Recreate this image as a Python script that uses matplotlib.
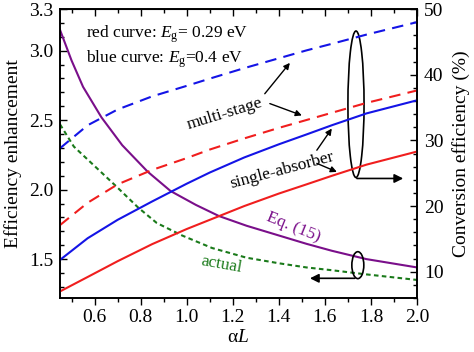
import matplotlib
matplotlib.use('Agg')
import matplotlib.pyplot as plt
from matplotlib.patches import Ellipse
from matplotlib.ticker import MultipleLocator, FixedLocator

plt.rcParams['font.family'] = 'Liberation Serif'
plt.rcParams['mathtext.fontset'] = 'custom'
plt.rcParams['mathtext.rm'] = 'Liberation Serif'
plt.rcParams['mathtext.it'] = 'Liberation Serif:italic'

# conversion efficiency (%), right axis
aL = [0.45, 0.57, 0.70, 0.85, 1.0, 1.1, 1.25, 1.4, 1.52, 1.63, 1.78, 2.0]
multi_blue = [28.8, 32.3, 34.7, 36.7, 38.3, 39.4, 41.0, 42.5, 43.7, 44.7, 46.1, 48.0]
multi_red = [17.1, 20.5, 23.3, 25.5, 27.3, 28.6, 30.3, 31.9, 33.1, 34.2, 35.7, 37.6]
single_blue = [11.8, 15.1, 17.9, 20.7, 23.4, 25.1, 27.4, 29.4, 30.9, 32.3, 34.1, 36.1]
single_red = [7.0, 9.2, 11.6, 14.2, 16.5, 17.9, 20.0, 21.9, 23.3, 24.6, 26.3, 28.3]

# efficiency enhancement, left axis
aL_eq = [0.45, 0.50, 0.55, 0.63, 0.72, 0.83, 0.93, 1.04, 1.14, 1.26, 1.40, 1.52, 1.63, 1.78, 2.0]
enh_eq15 = [3.15, 2.93, 2.74, 2.52, 2.32, 2.13, 1.99, 1.89, 1.81, 1.74, 1.67, 1.61, 1.56, 1.50, 1.44]
aL_act = [0.45, 0.51, 0.60, 0.69, 0.79, 0.87, 0.98, 1.11, 1.26, 1.40, 1.52, 1.63, 1.78, 2.0]
enh_actual = [2.47, 2.31, 2.17, 2.03, 1.87, 1.76, 1.67, 1.58, 1.51, 1.47, 1.44, 1.42, 1.39, 1.35]

left_ticks = [1.5, 2.0, 2.5, 3.0, 3.3]

blue = '#1414e6'
red = '#f01e1e'
purple = '#7a0f8a'
green = '#1a7a1a'
font = 14

fig = plt.figure(figsize=(4.74, 3.52), dpi=100)
ax = fig.add_axes([0.1266, 0.1534, 0.7532, 0.821])
ax2 = ax.twinx()

ax.plot(aL_eq, enh_eq15, color=purple, lw=1.5)
ax.plot(aL_act, enh_actual, color=green, lw=1.5, dashes=(2.2, 1.6))

ax2.plot(aL, multi_blue, color=blue, lw=1.5, dashes=(5.5, 3.5))
ax2.plot(aL, multi_red, color=red, lw=1.5, dashes=(5.5, 3.5))
ax2.plot(aL, single_blue, color=blue, lw=1.5)
ax2.plot(aL, single_red, color=red, lw=1.5)

ax.set_xlim(0.45, 2.0)
ax.set_ylim(1.22, 3.3)
ax2.set_ylim(6.0, 50)

ax.xaxis.set_major_locator(MultipleLocator(0.2))
ax.xaxis.set_minor_locator(MultipleLocator(0.1))
ax.yaxis.set_major_locator(FixedLocator(left_ticks))
ax.yaxis.set_minor_locator(MultipleLocator(0.1))
ax2.yaxis.set_major_locator(MultipleLocator(10))
ax2.yaxis.set_minor_locator(MultipleLocator(2))

ax.tick_params(axis='x', which='both', direction='out', labelsize=font, pad=3)
ax.tick_params(axis='x', which='major', length=5, width=1)
ax.tick_params(axis='x', which='minor', length=3, width=1)
ax.tick_params(axis='y', which='both', direction='in', labelsize=font, pad=5)
ax.tick_params(axis='y', which='major', length=5, width=1)
ax.tick_params(axis='y', which='minor', length=3, width=1)
ax2.tick_params(axis='y', which='both', direction='in', labelsize=font, pad=5)
ax2.tick_params(axis='y', which='major', length=5, width=1)
ax2.tick_params(axis='y', which='minor', length=3, width=1)

top = ax.secondary_xaxis('top')
top.xaxis.set_major_locator(MultipleLocator(0.2))
top.xaxis.set_minor_locator(MultipleLocator(0.1))
top.tick_params(which='both', direction='in', labeltop=False, width=1)
top.tick_params(which='major', length=5)
top.tick_params(which='minor', length=3)

for a in (ax, ax2):
    for s in a.spines.values():
        s.set_linewidth(1.2)

ax.set_xlabel(r'α$L$', fontsize=font, labelpad=2)
ax.set_ylabel('Efficiency enhancement', fontsize=font, labelpad=5)
ax2.set_ylabel('Conversion efficiency (%)', fontsize=font, labelpad=6)

# text labels
ax2.text(0.565, 45.6, r'red curve: $E_{\rm g}$= 0.29 eV', fontsize=12.5, va='baseline')
ax2.text(0.565, 41.8, r'blue curve: $E_{\rm g}$=0.4 eV', fontsize=12.5, va='baseline')
ax2.text(1.165, 34.1, 'multi-stage', fontsize=12.5, rotation=17, ha='center', va='center')
ax2.text(1.413, 25.5, 'single-absorber', fontsize=12.5, rotation=15, ha='center', va='center')
ax2.text(1.461, 16.7, 'Eq. (15)', fontsize=12.5, rotation=-22, ha='center', va='center', color=purple)
ax2.text(1.152, 11.1, 'actual', fontsize=12.5, rotation=-10, ha='center', va='center', color=green)

arrow = dict(arrowstyle='-|>', color='k', lw=1, mutation_scale=9, shrinkA=0, shrinkB=0)
ax2.annotate('', xy=(1.448, 41.8), xytext=(1.339, 37.1), arrowprops=arrow)
ax2.annotate('', xy=(1.50, 33.8), xytext=(1.361, 35.6), arrowprops=arrow)
ax2.annotate('', xy=(1.630, 31.8), xytext=(1.565, 28.5), arrowprops=arrow)
ax2.annotate('', xy=(1.652, 25.2), xytext=(1.565, 26.5), arrowprops=arrow)

# ellipses grouping curves by axis
ax2.add_patch(Ellipse((1.735, 35.5), 0.07, 22.3, fill=False, ec='k', lw=1.2))
big = dict(arrowstyle='-|>', color='k', lw=1.2, mutation_scale=13, shrinkA=0, shrinkB=0)
ax2.annotate('', xy=(1.94, 24.2), xytext=(1.739, 24.2), arrowprops=big)
ax2.add_patch(Ellipse((1.743, 11.0), 0.052, 4.1, fill=False, ec='k', lw=1.2))
ax2.annotate('', xy=(1.535, 9.0), xytext=(1.73, 9.0), arrowprops=big)

plt.savefig('out.png', dpi=100)
plt.close()
